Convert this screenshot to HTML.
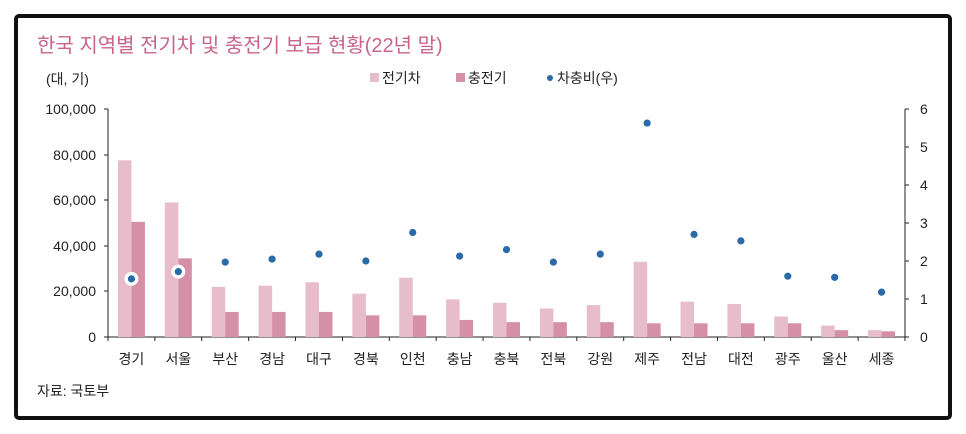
<!DOCTYPE html><html><head><meta charset="utf-8"><style>
body{margin:0;background:#fff;width:966px;height:434px;overflow:hidden}
svg{display:block}
text{font-family:"Liberation Sans","Noto Sans CJK KR",sans-serif}
</style></head><body>
<svg width="966" height="434" viewBox="0 0 966 434">
<rect x="16" y="16" width="934" height="402" rx="3" fill="#fff" stroke="#111" stroke-width="4"/>
<text x="37" y="52" font-size="20" fill="#c8648a">한국 지역별 전기차 및 충전기 보급 현황(22년 말)</text>
<text x="46" y="84" font-size="14" fill="#222">(대, 기)</text>
<rect x="370" y="73" width="9" height="9" fill="#e7bccb"/><text x="382" y="83" font-size="14" fill="#222">전기차</text>
<rect x="456" y="73" width="9" height="9" fill="#d58fa6"/><text x="468" y="83" font-size="14" fill="#222">충전기</text>
<circle cx="550" cy="78" r="3" fill="#2b6aa8"/><text x="557" y="83" font-size="14" fill="#222">차충비(우)</text>
<g font-size="14" fill="#222" text-anchor="end">
<text x="96" y="114">100,000</text><text x="96" y="160">80,000</text><text x="96" y="205">60,000</text><text x="96" y="251">40,000</text><text x="96" y="296">20,000</text><text x="96" y="342">0</text>
</g>
<g font-size="14" fill="#222" text-anchor="start">
<text x="920" y="114">6</text><text x="920" y="152">5</text><text x="920" y="190">4</text><text x="920" y="228">3</text><text x="920" y="266">2</text><text x="920" y="304">1</text><text x="920" y="342">0</text>
</g>
<g stroke="#222" stroke-width="1">
<line x1="108" y1="109" x2="108" y2="337"/>
<line x1="104" y1="109" x2="108" y2="109"/><line x1="104" y1="155" x2="108" y2="155"/><line x1="104" y1="200" x2="108" y2="200"/><line x1="104" y1="246" x2="108" y2="246"/><line x1="104" y1="291" x2="108" y2="291"/>
<line x1="905" y1="109" x2="905" y2="337"/>
<line x1="905" y1="109" x2="909" y2="109"/><line x1="905" y1="147" x2="909" y2="147"/><line x1="905" y1="185" x2="909" y2="185"/><line x1="905" y1="223" x2="909" y2="223"/><line x1="905" y1="261" x2="909" y2="261"/><line x1="905" y1="299" x2="909" y2="299"/>
<line x1="104" y1="337" x2="909" y2="337"/>
</g>
<g id="g"></g>
</svg>
<script>
var n=["경기","서울","부산","경남","대구","경북","인천","충남","충북","전북","강원","제주","전남","대전","광주","울산","세종"];
var a=[77500,59000,22000,22500,24000,19000,26000,16500,15000,12500,14000,33000,15500,14500,9000,5000,3000];
var b=[50500,34500,11000,11000,11000,9500,9500,7500,6500,6500,6500,6000,6000,6000,6000,3000,2500];
var d=[1.53,1.72,1.97,2.05,2.18,2.0,2.75,2.13,2.3,1.97,2.18,5.63,2.7,2.53,1.6,1.57,1.18];
var s="",w=(905-108)/17,k=228/100000;
for(var i=0;i<17;i++){var x0=108+i*w,c=x0+w/2;
s+='<line x1="'+x0+'" y1="337" x2="'+x0+'" y2="341" stroke="#222"/>';
var h1=a[i]*k,h2=b[i]*k;
s+='<rect x="'+(c-13.5)+'" y="'+(337-h1)+'" width="13.5" height="'+h1+'" fill="#e7bccb"/>';
s+='<rect x="'+c+'" y="'+(337-h2)+'" width="13.5" height="'+h2+'" fill="#d58fa6"/>';
var y=337-d[i]*38;
if(i<2)s+='<circle cx="'+c+'" cy="'+y+'" r="7" fill="#fff"/>';
s+='<circle cx="'+c+'" cy="'+y+'" r="3.6" fill="#2b6aa8"/>';
s+='<text x="'+c+'" y="364" font-size="14" fill="#222" text-anchor="middle">'+n[i]+'</text>';}
s+='<line x1="905" y1="337" x2="905" y2="341" stroke="#222"/>';
s+='<text x="37" y="396" font-size="14" fill="#222">자료: 국토부</text>';
document.getElementById("g").innerHTML=s;
</script>
</body></html>
